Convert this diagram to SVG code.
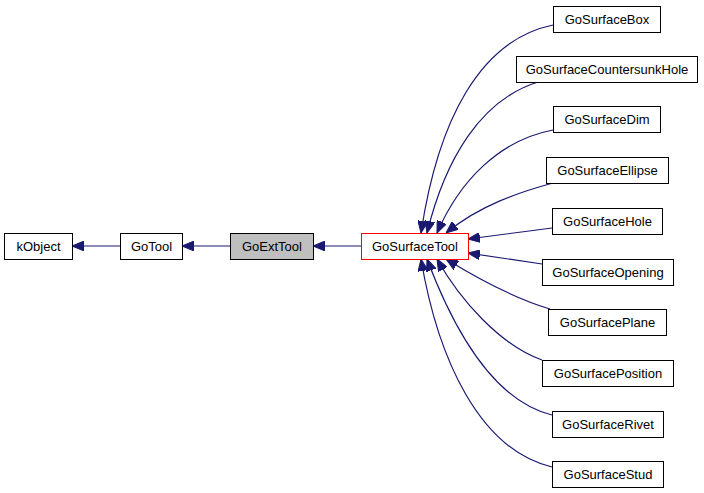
<svg xmlns="http://www.w3.org/2000/svg" width="704" height="493" viewBox="0 0 704 493">
<style>
.n rect{fill:#fff;stroke:#000;stroke-width:1}
.n rect.base{fill:#bfbfbf}
.n rect.cur{stroke:#ff0000}
.n text{font-family:"Liberation Sans",Arial,sans-serif;font-size:13px;fill:#000;text-anchor:middle}
.e path{fill:none;stroke:#191970;stroke-width:1.2;marker-end:url(#ah)}
</style>
<defs>
<marker id="ah" viewBox="0 0 12 10" refX="12" refY="5" markerWidth="12" markerHeight="10" markerUnits="userSpaceOnUse" orient="auto">
<path d="M0,0 L12,5 L0,10 Z" fill="#191970" stroke="#191970"/>
</marker>
</defs>
<rect width="704" height="493" fill="#fff"/>
<g class="e" id="edges">
<path d="M120,246 L72,246"/>
<path d="M230,246 L182,246"/>
<path d="M361,246 L313,246"/>
<path d="M553,25 C480,40 438,120 421,233"/>
<path d="M538,82 C480,100 445,160 427,233"/>
<path d="M553,130 C500,140 460,180 437,233"/>
<path d="M553,183 C520,192 480,205 446,233"/>
<path d="M552,228 L468,239"/>
<path d="M542,264 L468,253"/>
<path d="M550,309 C520,300 480,280 446,259"/>
<path d="M542,360 C500,345 460,300 437,259"/>
<path d="M552,415 C490,400 450,320 427,259"/>
<path d="M552,467 C480,450 438,360 421,259"/>
</g>
<g class="n" id="kObject"><rect x="4.5" y="233.5" width="68" height="26"/><text x="38.5" y="251">kObject</text></g>
<g class="n" id="GoTool"><rect x="120.5" y="233.5" width="62" height="26"/><text x="151.5" y="251">GoTool</text></g>
<g class="n" id="GoExtTool"><rect class="base" x="230.5" y="233.5" width="83" height="26"/><text x="272" y="251">GoExtTool</text></g>
<g class="n" id="GoSurfaceTool"><rect class="cur" x="361.5" y="233.5" width="107" height="26"/><text x="415" y="251">GoSurfaceTool</text></g>
<g class="n" id="GoSurfaceBox"><rect x="553.5" y="6.5" width="107" height="26"/><text x="607" y="24">GoSurfaceBox</text></g>
<g class="n" id="GoSurfaceCountersunkHole"><rect x="516.5" y="56.5" width="181" height="26"/><text x="607" y="74">GoSurfaceCountersunkHole</text></g>
<g class="n" id="GoSurfaceDim"><rect x="553.5" y="106.5" width="107" height="26"/><text x="607" y="124">GoSurfaceDim</text></g>
<g class="n" id="GoSurfaceEllipse"><rect x="546.5" y="157.5" width="122" height="26"/><text x="607.5" y="175">GoSurfaceEllipse</text></g>
<g class="n" id="GoSurfaceHole"><rect x="552.5" y="208.5" width="110" height="26"/><text x="607.5" y="226">GoSurfaceHole</text></g>
<g class="n" id="GoSurfaceOpening"><rect x="542.5" y="259.5" width="131" height="26"/><text x="608" y="277">GoSurfaceOpening</text></g>
<g class="n" id="GoSurfacePlane"><rect x="548.5" y="309.5" width="118" height="26"/><text x="607.5" y="327">GoSurfacePlane</text></g>
<g class="n" id="GoSurfacePosition"><rect x="542.5" y="360.5" width="131" height="26"/><text x="608" y="378">GoSurfacePosition</text></g>
<g class="n" id="GoSurfaceRivet"><rect x="552.5" y="411.5" width="111" height="26"/><text x="608" y="429">GoSurfaceRivet</text></g>
<g class="n" id="GoSurfaceStud"><rect x="552.5" y="461.5" width="111" height="26"/><text x="608" y="479">GoSurfaceStud</text></g>
</svg>
